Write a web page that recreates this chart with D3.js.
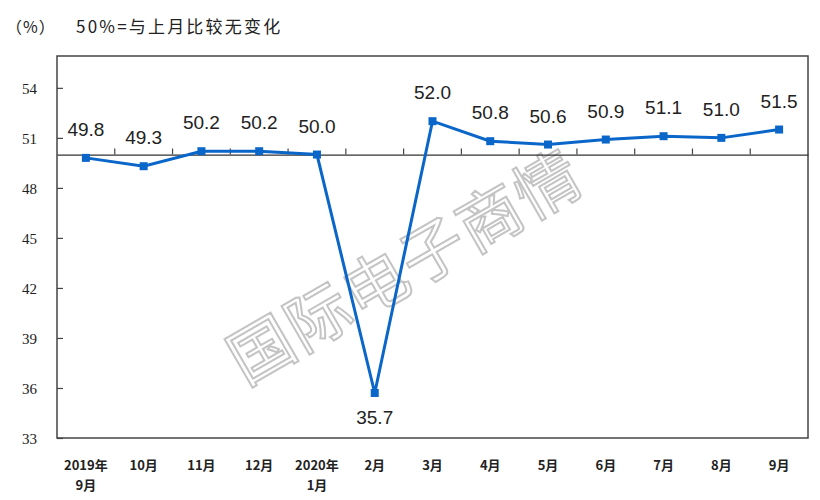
<!DOCTYPE html>
<html><head><meta charset="utf-8">
<script src="https://cdn.jsdelivr.net/npm/d3@7"></script>
<style>body{margin:0;background:#fff}svg{display:block}</style>
</head><body>
<svg id="c" width="820" height="500"></svg>
<script>
const categories = ["2019年\n9月","10月","11月","12月","2020年\n1月","2月","3月","4月","5月","6月","7月","8月","9月"];
const values = [49.8,49.3,50.2,50.2,50.0,35.7,52.0,50.8,50.6,50.9,51.1,51.0,51.5];
const yTicks = [33,36,39,42,45,48,51,54];
const baseline = 50;
const headerUnit = "（%）";
const headerNote = "50%=与上月比较无变化";
const watermark = "国际电子商情";

const svg = d3.select("#c");
const L=57, T=56, R=808, B=438;
const x = d3.scaleBand().domain(categories).range([L,R]);
const y = d3.scaleLinear().domain([33,56]).range([B,T-1.5]);
const blue = "#0a66c8";

// watermark
svg.append("text").attr("x",408).attr("y",272)
  .attr("transform","rotate(-30,408,272)")
  .attr("text-anchor","middle").attr("dominant-baseline","middle")
  .attr("font-family","Noto Sans CJK SC").attr("font-size",64)
  .attr("letter-spacing",2)
  .attr("fill","#fff").attr("stroke","#c4c4c4").attr("stroke-width",2)
  .text(watermark);

// frame
svg.append("rect").attr("x",L).attr("y",T).attr("width",R-L).attr("height",B-T)
  .attr("fill","none").attr("stroke","#444").attr("stroke-width",1.5);

// y axis
const ya = svg.append("g").attr("transform",`translate(${L},0)`)
  .call(d3.axisRight(y).tickValues(yTicks).tickSize(6).tickFormat(d=>d));
ya.select(".domain").remove();
ya.selectAll("line").attr("stroke","#444").attr("stroke-width",1.2);
ya.selectAll("text").attr("x",-20).attr("text-anchor","end")
  .attr("font-family","Liberation Serif").attr("font-size",15).attr("fill","#222").attr("dy","0.35em");

// baseline axis at 50
const xa = svg.append("g").attr("transform",`translate(0,${y(baseline)})`)
  .call(d3.axisTop(x).tickSize(0).tickFormat(""));
xa.select(".domain").attr("stroke","#333").attr("stroke-width",1.3);
xa.selectAll(".tick").remove();
const bounds = categories.slice(1).map(c=>x(c));
svg.append("g").selectAll("line").data(bounds).join("line")
  .attr("x1",d=>d).attr("x2",d=>d).attr("y1",y(baseline)).attr("y2",y(baseline)-6)
  .attr("stroke","#444").attr("stroke-width",1.2);

// x labels
const xl = svg.append("g");
categories.forEach(c=>{
  const lines = c.split("\n");
  const t = xl.append("text").attr("x",x(c)+x.bandwidth()/2).attr("y",470)
    .attr("text-anchor","middle").attr("font-family","Noto Sans CJK SC")
    .attr("font-size",13).attr("font-weight","bold").attr("fill","#222");
  lines.forEach((s,i)=>t.append("tspan").attr("x",x(c)+x.bandwidth()/2).attr("dy",i?20:0).text(s));
});

// line
const cx = (d,i)=>x(categories[i])+x.bandwidth()/2;
svg.append("path").datum(values)
  .attr("d",d3.line().x(cx).y(d=>y(d)))
  .attr("fill","none").attr("stroke",blue).attr("stroke-width",3);
svg.append("g").selectAll("rect").data(values).join("rect")
  .attr("x",(d,i)=>cx(d,i)-4).attr("y",d=>y(d)-4).attr("width",8).attr("height",8)
  .attr("fill",blue);

// value labels
svg.append("g").selectAll("text").data(values).join("text")
  .attr("x",(d,i)=>cx(d,i)).attr("y",d=>d<40? y(d)+31 : y(d)-22)
  .attr("text-anchor","middle").attr("font-family","Liberation Sans").attr("font-size",19)
  .attr("fill","#222").text(d=>d.toFixed(1));

// header
svg.append("text").attr("x",6).attr("y",33).attr("font-family","Noto Sans CJK SC")
  .attr("font-size",16).attr("letter-spacing",1).attr("fill","#222").text(headerUnit);
svg.append("text").attr("x",76).attr("y",33).attr("font-family","Noto Sans CJK SC")
  .attr("font-size",17).attr("letter-spacing",2.2).attr("fill","#222").text(headerNote);
</script>
</body></html>
